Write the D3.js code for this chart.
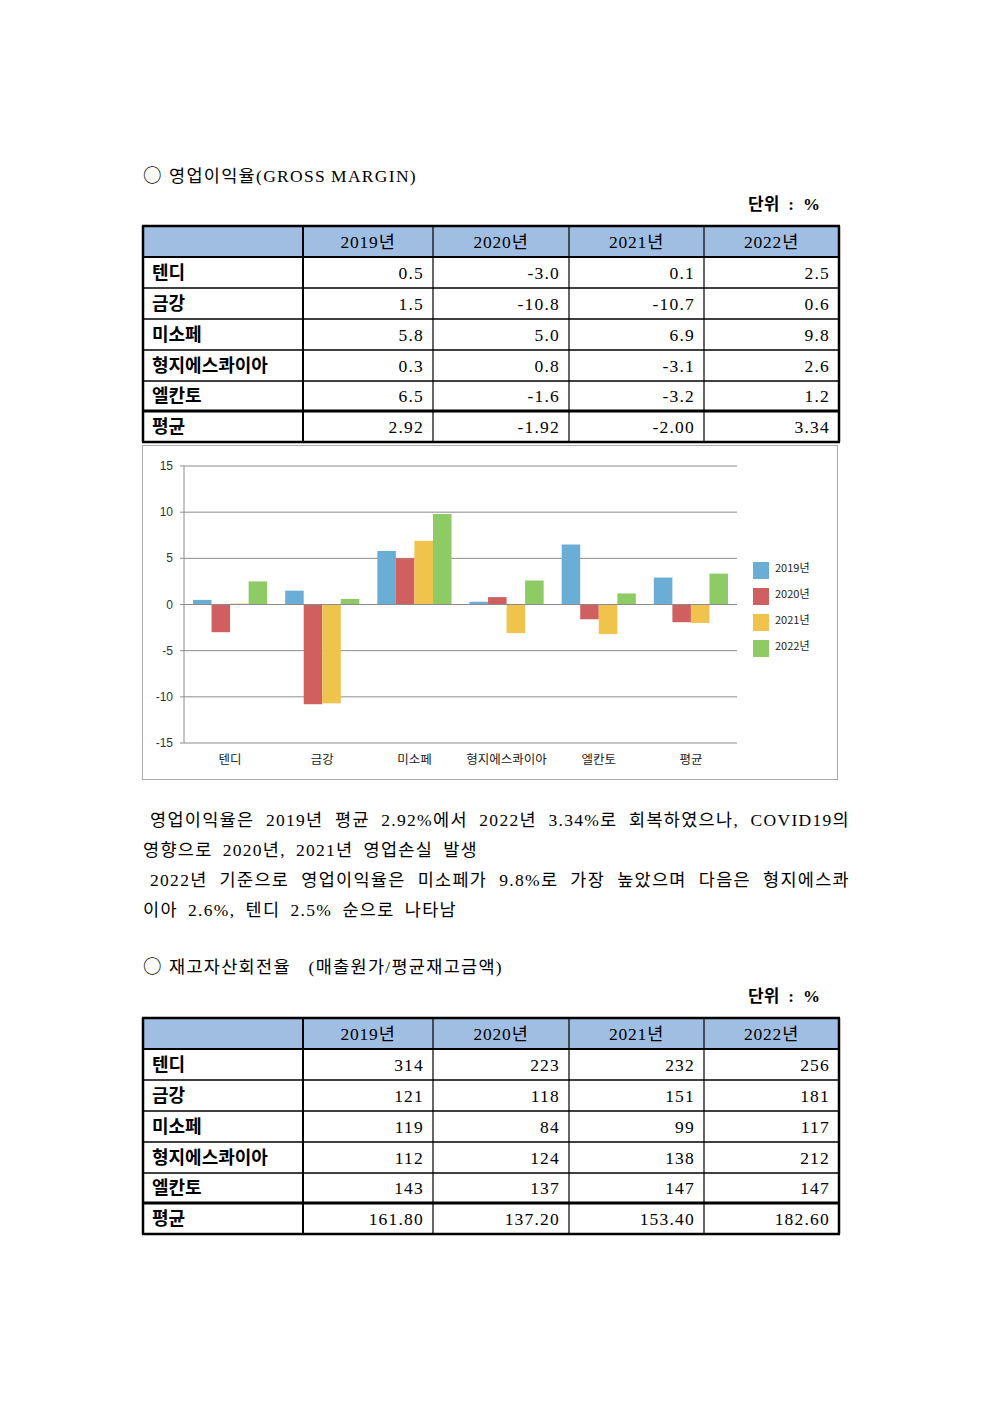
<!DOCTYPE html>
<html><head><meta charset="utf-8">
<script src="https://cdn.jsdelivr.net/npm/d3@7"></script>
<style>
html,body{margin:0;padding:0;background:#fff;}
svg{display:block;}
</style></head>
<body>
<script>
// ---- data ----
const companies = ["텐디","금강","미소페","형지에스콰이아","엘칸토"];
const avgLabel = "평균";
const years = ["2019년","2020년","2021년","2022년"];
const margin2019 = [0.5, 1.5, 5.8, 0.3, 6.5];
const margin2020 = [-3.0, -10.8, 5.0, 0.8, -1.6];
const margin2021 = [0.1, -10.7, 6.9, -3.1, -3.2];
const margin2022 = [2.5, 0.6, 9.8, 2.6, 1.2];
const marginAvg = [2.92, -1.92, -2.00, 3.34];
const turn2019 = [314, 121, 119, 112, 143];
const turn2020 = [223, 118, 84, 124, 137];
const turn2021 = [232, 151, 99, 138, 147];
const turn2022 = [256, 181, 117, 212, 147];
const turnAvg = [161.80, 137.20, 153.40, 182.60];
const yTicks = [-15,-10,-5,0,5,10,15];
const seriesColors = ["#6aaed6","#d06060","#f0c34d","#8fcb64"];

const W = 992, H = 1403;
const svg = d3.select("body").append("svg").attr("width", W).attr("height", H);
svg.append("rect").attr("width", W).attr("height", H).attr("fill", "#fff");

const KR = "'Noto Sans CJK KR','Noto Sans',sans-serif";
const SERIF = "'Liberation Serif','Noto Sans CJK KR',serif";

// justified line: words spread so the line spans exactly `width`
function justLine(txt, x0, y0, width, opts) {
  const words = txt.split(" ");
  const g = svg.append("g");
  const els = words.map(w => g.append("text").attr("y", y0)
    .attr("font-family", opts.family)
    .attr("font-size", opts.size)
    .attr("font-weight", opts.weight || 400)
    .attr("letter-spacing", opts.ls || 0).attr("fill", "#000").text(w));
  const ws = els.map(e => e.node().getComputedTextLength());
  const sum = d3.sum(ws);
  let gap = words.length > 1 ? (width - sum) / (words.length - 1) : 0;
  if (gap < 3) gap = 5;
  let cx = x0;
  els.forEach((e, i) => { e.attr("x", cx); cx += ws[i] + gap; });
}

const bodyOpts = {family: SERIF, size: 17.5, ls: 1.3};
// headings
function heading(y, txt, endX) {
  svg.append("text").attr("x", 143).attr("y", y).attr("font-family", KR)
    .attr("font-size", 18.5).attr("fill", "#000").text("○");
  justLine(txt, 169, y, endX - 169, bodyOpts);
}
heading(182, "영업이익율(GROSS MARGIN)", 412);
heading(973, "재고자산회전율 (매출원가/평균재고금액)", 503);
justLine("단위 : %", 748, 210, 72, {family: SERIF, size: 17, weight: 700});
justLine("단위 : %", 748, 1002, 72, {family: SERIF, size: 17, weight: 700});

// tables
const colX = [143, 303, 433, 569, 704, 839];
function table(top, rowsData, avgRow, fmt) {
  const rowH = [31, 31, 31, 31, 31, 30, 31];
  const ys = [top];
  rowH.forEach(h => ys.push(ys[ys.length-1] + h));
  const g = svg.append("g");
  g.append("rect").attr("x", colX[0]).attr("y", ys[0]).attr("width", colX[5]-colX[0]).attr("height", ys[1]-ys[0])
    .attr("fill", "#9fbee2");
  years.forEach((yr, i) => {
    g.append("text").attr("x", (colX[i+1]+colX[i+2])/2).attr("y", (ys[0]+ys[1])/2 + 6)
      .attr("text-anchor", "middle").attr("font-family", SERIF).attr("font-size", 17.5)
      .attr("letter-spacing", 0.8).attr("fill", "#000").text(yr);
  });
  const labels = companies.concat([avgLabel]);
  labels.forEach((lab, r) => {
    const cy = (ys[r+1] + ys[r+2]) / 2;
    g.append("text").attr("x", 152).attr("y", cy + 6)
      .attr("font-family", KR).attr("font-size", 18).attr("font-weight", 700).attr("fill", "#000")
      .text(lab);
    const vals = r < companies.length ? rowsData.map(s => s[r]) : avgRow;
    vals.forEach((v, c) => {
      g.append("text").attr("x", colX[c+2] - 9).attr("y", cy + 6)
        .attr("text-anchor", "end").attr("font-family", SERIF).attr("font-size", 17.5)
        .attr("letter-spacing", 1.2).attr("fill", "#000")
        .text(fmt(v, r));
    });
  });
  ys.forEach((y, i) => {
    const w = (i === 0 || i === ys.length-1) ? 2.5 : (i === 6 ? 3 : (i === 1 ? 2 : 1.5));
    g.append("line").attr("x1", colX[0]-1).attr("x2", colX[5]+1).attr("y1", y).attr("y2", y)
      .attr("stroke", "#000").attr("stroke-width", w);
  });
  colX.forEach((x, i) => {
    const w = (i === 0 || i === colX.length-1) ? 2.5 : (i === 1 ? 2 : 1.2);
    g.append("line").attr("x1", x).attr("x2", x).attr("y1", ys[0]).attr("y2", ys[ys.length-1])
      .attr("stroke", "#000").attr("stroke-width", w);
  });
}
const fmtSigned = f => v => d3.format(f)(v).replace("−", "-");
table(226, [margin2019, margin2020, margin2021, margin2022], marginAvg,
  (v, r) => r < companies.length ? fmtSigned(".1f")(v) : fmtSigned(".2f")(v));
table(1018, [turn2019, turn2020, turn2021, turn2022], turnAvg,
  (v, r) => r < companies.length ? String(v) : d3.format(".2f")(v));

// ---- chart ----
svg.append("rect").attr("x", 142.5).attr("y", 445.5).attr("width", 695).attr("height", 334)
  .attr("fill", "#fff").attr("stroke", "#aaa").attr("stroke-width", 1);

const cats = companies.concat([avgLabel]);
const x = d3.scaleBand().domain(cats).range([184, 737]).paddingInner(0).paddingOuter(0);
const xs = d3.scaleBand().domain(years).range([9, x.bandwidth() - 9]).paddingInner(0);
const y = d3.scaleLinear().domain([-15, 15]).range([743, 466]);

const grid = svg.append("g");
yTicks.forEach(t => {
  grid.append("line").attr("x1", 180).attr("x2", 737).attr("y1", y(t)).attr("y2", y(t))
    .attr("stroke", "#8c8c8c").attr("stroke-width", 1);
  grid.append("text").attr("x", 173).attr("y", y(t) + 4).attr("text-anchor", "end")
    .attr("font-family", "'Liberation Sans','DejaVu Sans',sans-serif").attr("font-size", 12).attr("fill", "#333")
    .text(t);
});
grid.append("line").attr("x1", 184).attr("x2", 184).attr("y1", y(15)).attr("y2", y(-15))
  .attr("stroke", "#8c8c8c").attr("stroke-width", 1);

const series = [margin2019, margin2020, margin2021, margin2022];
const bars = [];
cats.forEach((c, ci) => {
  years.forEach((yr, si) => {
    const v = ci < companies.length ? series[si][ci] : marginAvg[si];
    bars.push({c, yr, si, v});
  });
});
svg.append("g").selectAll("rect").data(bars).join("rect")
  .attr("x", d => x(d.c) + xs(d.yr))
  .attr("width", xs.bandwidth())
  .attr("y", d => Math.min(y(d.v), y(0)))
  .attr("height", d => Math.abs(y(d.v) - y(0)))
  .attr("fill", d => seriesColors[d.si]);

svg.append("line").attr("x1", 184).attr("x2", 737).attr("y1", y(0)).attr("y2", y(0))
  .attr("stroke", "#8c8c8c").attr("stroke-width", 1);

cats.forEach(c => {
  svg.append("text").attr("x", x(c) + x.bandwidth()/2).attr("y", 764)
    .attr("text-anchor", "middle").attr("font-family", KR).attr("font-size", 12.5).attr("fill", "#222")
    .text(c);
});

// legend
years.forEach((yr, i) => {
  const ly = 562 + i * 26;
  svg.append("rect").attr("x", 753).attr("y", ly).attr("width", 16).attr("height", 17)
    .attr("fill", seriesColors[i]);
  svg.append("text").attr("x", 775).attr("y", ly + 10).attr("font-family", KR)
    .attr("font-size", 11).attr("fill", "#222").text(yr);
});

// ---- body text ----
const lines = [
  {t:"영업이익율은 2019년 평균 2.92%에서 2022년 3.34%로 회복하였으나, COVID19의", x:150, y:826, w:700},
  {t:"영향으로 2020년, 2021년 영업손실 발생", x:143, y:856, w:335},
  {t:"2022년 기준으로 영업이익율은 미소페가 9.8%로 가장 높았으며 다음은 형지에스콰", x:150, y:886, w:700},
  {t:"이아 2.6%, 텐디 2.5% 순으로 나타남", x:143, y:916, w:314}
];
lines.forEach(l => justLine(l.t, l.x, l.y, l.w, bodyOpts));
</script>
</body></html>
